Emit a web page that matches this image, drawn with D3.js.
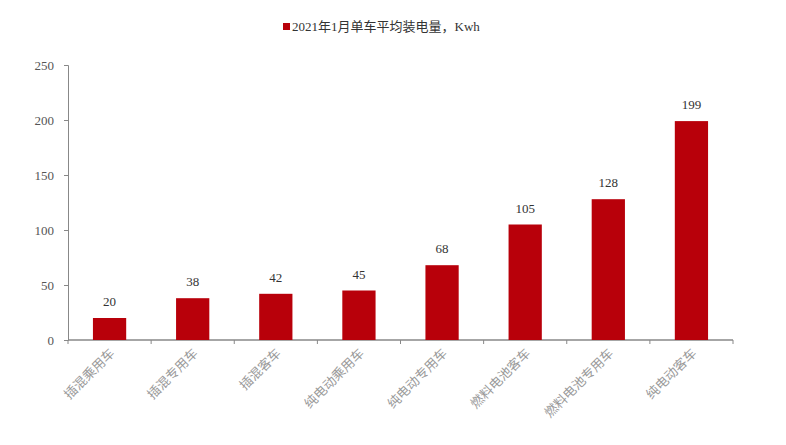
<!DOCTYPE html>
<html>
<head>
<meta charset="utf-8">
<script src="https://d3js.org/d3.v7.min.js"></script>
<style>
body{margin:0;background:#fff;}
text{font-family:"Liberation Serif","Noto Sans CJK SC",serif;}
</style>
</head>
<body>
<script>
var categories = ["插混乘用车","插混专用车","插混客车","纯电动乘用车","纯电动专用车","燃料电池客车","燃料电池专用车","纯电动客车"];
var values = [20, 38, 42, 45, 68, 105, 128, 199];
var yTicks = [0, 50, 100, 150, 200, 250];
var seriesName = "2021年1月单车平均装电量，Kwh";

var w = 786, h = 445;
var m = {left: 68, right: 53, top: 65, bottom: 105};
var color = "#B8000A";

var svg = d3.select("body").append("svg").attr("width", w).attr("height", h);

var x = d3.scaleBand().domain(categories).range([m.left, w - m.right]).paddingInner(0.6).paddingOuter(0.3);
var y = d3.scaleLinear().domain([0, 250]).range([h - m.bottom, m.top]);

// y axis
var ya = svg.append("g").attr("transform", "translate(" + m.left + ",0)")
  .call(d3.axisLeft(y).tickValues(yTicks).tickSize(4).tickPadding(10));
ya.selectAll("line,path").attr("stroke", "#888");
ya.selectAll("text").attr("font-size", 13).attr("fill", "#555");

// x axis with ticks at band boundaries
var xa = svg.append("g").attr("transform", "translate(0," + y(0) + ")");
xa.append("line").attr("x1", m.left).attr("x2", w - m.right).attr("stroke", "#888").attr("stroke-width", 1.5);
var step = (w - m.right - m.left) / categories.length;
xa.selectAll("line.tk").data(d3.range(categories.length + 1)).enter().append("line")
  .attr("class", "tk")
  .attr("x1", function(d){ return m.left + d * step; })
  .attr("x2", function(d){ return m.left + d * step; })
  .attr("y1", 0).attr("y2", 4).attr("stroke", "#888");

svg.selectAll("rect.bar").data(values).enter().append("rect")
  .attr("class", "bar")
  .attr("x", function(d, i){ return x(categories[i]); })
  .attr("y", function(d){ return y(d); })
  .attr("width", x.bandwidth())
  .attr("height", function(d){ return y(0) - y(d); })
  .attr("fill", color);

svg.selectAll("text.val").data(values).enter().append("text")
  .attr("class", "val")
  .attr("x", function(d, i){ return x(categories[i]) + x.bandwidth() / 2; })
  .attr("y", function(d){ return y(d) - 12; })
  .attr("text-anchor", "middle").attr("font-size", 13).attr("fill", "#333")
  .text(function(d){ return d; });

svg.selectAll("text.cat").data(categories).enter().append("text")
  .attr("class", "cat")
  .attr("transform", function(d){
    return "translate(" + (x(d) + x.bandwidth() / 2 + 6) + "," + (y(0) + 14) + ") rotate(-45)";
  })
  .attr("text-anchor", "end").attr("font-size", 13).attr("fill", "#999")
  .text(function(d){ return d; });

// legend
var lg = svg.append("g").attr("transform", "translate(283,22)");
lg.append("rect").attr("width", 7).attr("height", 7).attr("y", 1).attr("fill", color);
lg.append("text").attr("x", 9).attr("y", 9).attr("font-size", 13).attr("fill", "#333").text(seriesName);
</script>
</body>
</html>
